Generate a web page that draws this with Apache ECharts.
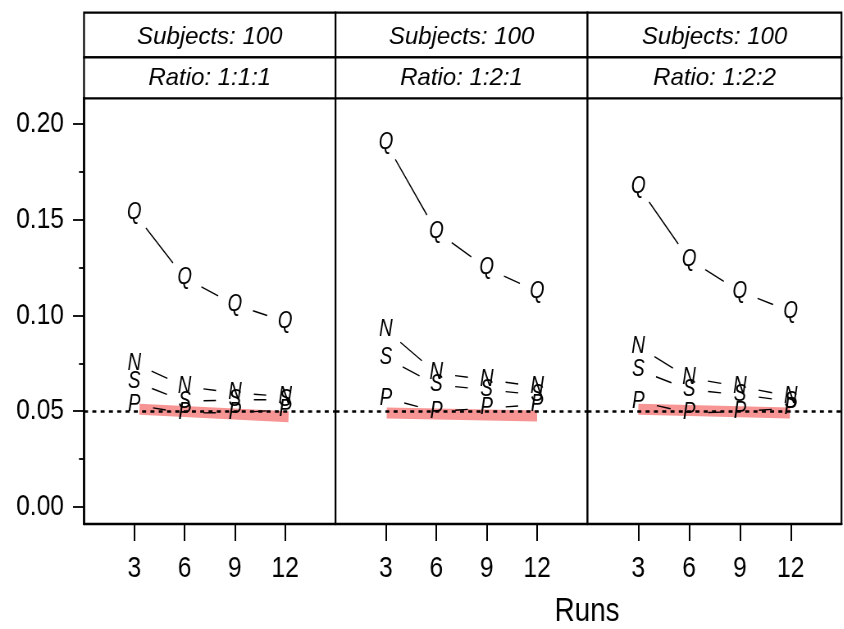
<!DOCTYPE html>
<html>
<head>
<meta charset="UTF-8">
<title>Runs</title>
<script src="https://cdn.jsdelivr.net/npm/echarts@6/dist/echarts.min.js"></script>
<style>
html,body{margin:0;padding:0;background:#fff;}
#wrap{width:844px;height:629px;overflow:hidden;}
/* the original lettering is condensed: draw wider and squeeze horizontally */
#main{width:1030px;height:629px;transform:scaleX(0.82);transform-origin:0 0;}
</style>
</head>
<body>
<div id="wrap"><div id="main"></div></div>
<script>
// data
var runs = [3, 6, 9, 12];
var yTicks = [0, 0.05, 0.10, 0.15, 0.20];
var yMinorTicks = [0.025, 0.075, 0.125, 0.175];
var stripSubjects = ['Subjects: 100', 'Subjects: 100', 'Subjects: 100'];
var stripRatio = ['Ratio: 1:1:1', 'Ratio: 1:2:1', 'Ratio: 1:2:2'];
var letters = ['Q', 'N', 'S', 'P'];
var refLevel = 0.05;

// panel 1 (1:1:1)
var q1 = [0.1536, 0.1196, 0.1056, 0.0969];
var n1 = [0.0751, 0.0629, 0.0595, 0.0577];
var s1 = [0.0655, 0.0551, 0.0559, 0.0560];
var p1 = [0.0533, 0.0490, 0.0492, 0.0507];
// panel 2 (1:2:1)
var q2 = [0.1902, 0.1439, 0.1248, 0.1126];
var n2 = [0.0925, 0.0699, 0.0664, 0.0629];
var s2 = [0.0778, 0.0638, 0.0612, 0.0586];
var p2 = [0.0568, 0.0498, 0.0516, 0.0533];
// panel 3 (1:2:2)
var q3 = [0.1675, 0.1292, 0.1126, 0.1021];
var n3 = [0.0838, 0.0673, 0.0629, 0.0577];
var s3 = [0.0716, 0.0612, 0.0586, 0.0551];
var p3 = [0.0551, 0.0490, 0.0498, 0.0516];

// red highlight strokes, [x, y] at both ends
var band1 = [[3.3, 0.0510], [12.2, 0.0471]];
var band2 = [[3.05, 0.0490], [12.0, 0.0474]];
var band3 = [[3.0, 0.0510], [11.95, 0.0490]];

var panels = [
    { vals: [q1, n1, s1, p1], band: band1 },
    { vals: [q2, n2, s2, p2], band: band2 },
    { vals: [q3, n3, s3, p3], band: band3 }
];

var S = 0.82;   // horizontal squeeze of #main
function px(x) { return x / S; }

var FONT = '"Liberation Sans", Arial, sans-serif';
var gridPos = [
    { left: 84, width: 251.5 },
    { left: 335.5, width: 252 },
    { left: 587.5, width: 254 }
];
var gridTop = 98, gridH = 426;
var GAP = 19;   // screen pixels left blank round each letter

var myChart = echarts.init(document.getElementById('main'));

function makeRender(vals, letter) {
    return function (params, api) {
        var i = params.dataIndex;
        var a = api.coord([api.value(0), api.value(1)]);
        var children = [{
            type: 'text',
            x: a[0], y: a[1],
            style: {
                text: letter,
                font: 'italic 23px ' + FONT,
                fill: '#000',
                textAlign: 'center', textVerticalAlign: 'middle',
                align: 'center', verticalAlign: 'middle'
            }
        }];
        if (i < runs.length - 1) {
            var b = api.coord([runs[i + 1], vals[i + 1]]);
            var dx = b[0] - a[0], dy = b[1] - a[1];
            var d = Math.sqrt(dx * S * dx * S + dy * dy);
            if (d > 2 * GAP) {
                var t = GAP / d;
                children.push({
                    type: 'line',
                    shape: {
                        x1: a[0] + dx * t, y1: a[1] + dy * t,
                        x2: b[0] - dx * t, y2: b[1] - dy * t
                    },
                    style: { stroke: '#000', lineWidth: 1.4 }
                });
            }
        }
        return { type: 'group', children: children };
    };
}

var grids = [], xAxes = [], yAxes = [], series = [], graphics = [];

gridPos.forEach(function (g, p) {
    grids.push({
        left: px(g.left), top: gridTop, width: px(g.width), height: gridH,
        show: true, borderColor: '#000', borderWidth: 2.2, backgroundColor: '#fff'
    });
    xAxes.push({
        type: 'value', gridIndex: p, min: 0, max: 15,
        axisLine: { show: true, onZero: false, lineStyle: { color: '#000', width: 2.4 } },
        axisTick: { show: true, customValues: runs, length: 17, lineStyle: { color: '#000', width: 2 } },
        axisLabel: { show: true, customValues: runs, margin: 30, color: '#000', fontSize: 30, fontFamily: FONT },
        splitLine: { show: false }
    });
    yAxes.push({
        type: 'value', gridIndex: p, min: -0.009, max: 0.2137,
        axisLine: { show: p === 0, onZero: false, lineStyle: { color: '#000', width: 2.6 } },
        axisTick: { show: p === 0, customValues: yTicks, length: px(11), lineStyle: { color: '#000', width: 1.8 } },
        axisLabel: {
            show: p === 0, customValues: yTicks, margin: px(20), color: '#000',
            fontSize: 30, fontFamily: FONT, padding: [6, 0, 0, 0],
            formatter: function (v) { return v.toFixed(2); }
        },
        splitLine: { show: false }
    });
});

// minor ticks on the left axis
yAxes.push({
    type: 'value', gridIndex: 0, min: -0.009, max: 0.2137, position: 'left',
    axisLine: { show: false, onZero: false },
    axisTick: { show: true, customValues: yMinorTicks, length: px(5), lineStyle: { color: '#000', width: 1.8 } },
    axisLabel: { show: false },
    splitLine: { show: false }
});

panels.forEach(function (pn, p) {
    series.push({
        type: 'line', xAxisIndex: p, yAxisIndex: p,
        data: pn.band, symbol: 'none', silent: true, z: 1,
        lineStyle: { color: 'rgba(240,60,60,0.55)', width: 11, cap: 'butt' },
        markLine: {
            symbol: 'none', silent: true, label: { show: false },
            lineStyle: { color: '#000', type: [px(4), px(4.3)], width: 2.7 },
            data: [{ yAxis: refLevel }]
        }
    });
    pn.vals.forEach(function (vals, k) {
        series.push({
            type: 'custom', xAxisIndex: p, yAxisIndex: p, z: 3,
            data: runs.map(function (r, i) { return [r, vals[i]]; }),
            renderItem: makeRender(vals, letters[k])
        });
    });

    var g = gridPos[p];
    graphics.push({
        type: 'rect', shape: { x: px(g.left), y: 12.7, width: px(g.width), height: 44.6 },
        style: { fill: '#fff', stroke: '#000', lineWidth: 2.2 }
    });
    graphics.push({
        type: 'rect', shape: { x: px(g.left), y: 57.3, width: px(g.width), height: 41 },
        style: { fill: '#fff', stroke: '#000', lineWidth: 2.2 }
    });
    // strip labels are not condensed in the original, so undo the squeeze
    graphics.push({
        type: 'text', x: px(g.left + g.width / 2), y: 37, scaleX: 1 / S,
        style: { text: stripSubjects[p], font: 'italic 24px ' + FONT, fill: '#000', textAlign: 'center', textVerticalAlign: 'middle' }
    });
    graphics.push({
        type: 'text', x: px(g.left + g.width / 2), y: 78.5, scaleX: 1 / S,
        style: { text: stripRatio[p], font: 'italic 24px ' + FONT, fill: '#000', textAlign: 'center', textVerticalAlign: 'middle' }
    });
});

graphics.push({
    type: 'text', x: px(587), y: 612,
    style: { text: 'Runs', font: '34px ' + FONT, fill: '#000', textAlign: 'center', textVerticalAlign: 'middle' }
});

myChart.setOption({
    backgroundColor: '#fff',
    animation: false,
    grid: grids,
    xAxis: xAxes,
    yAxis: yAxes,
    series: series,
    graphic: graphics
});
</script>
</body>
</html>
